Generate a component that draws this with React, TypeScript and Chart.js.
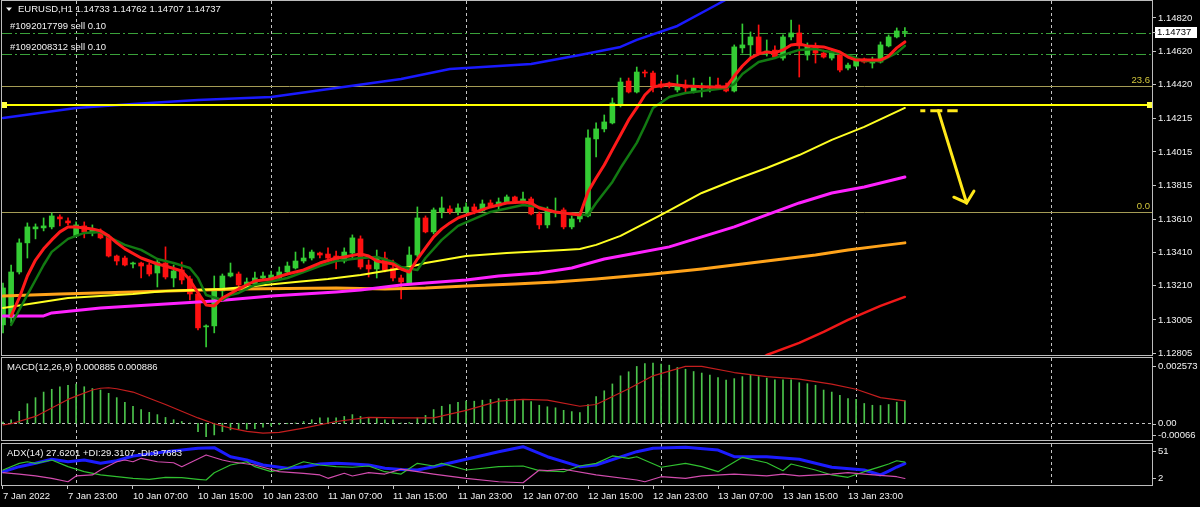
import React, { useEffect, useRef } from "react";
import { Chart, registerables } from "chart.js";

Chart.register(...registerables);

// ---------------- DATA ----------------
const opens = [1.12975,1.13017,1.13293,1.13468,1.13552,1.13558,1.13564,1.13624,1.136,1.1351,1.1357,1.13528,1.13534,1.13504,1.13389,1.13377,1.13341,1.13347,1.13335,1.13287,1.13347,1.13257,1.13305,1.13251,1.13161,1.12963,1.12969,1.13179,1.13269,1.13281,1.13215,1.13221,1.13257,1.13257,1.13257,1.13293,1.13317,1.13359,1.13377,1.13407,1.13401,1.13389,1.13359,1.13407,1.13492,1.13335,1.13311,1.13377,1.13317,1.13257,1.13227,1.13395,1.13618,1.13534,1.13654,1.13672,1.13654,1.13654,1.13684,1.1366,1.13708,1.1369,1.13714,1.13744,1.13714,1.13732,1.13642,1.13576,1.13648,1.13666,1.13564,1.13612,1.1363,1.14093,1.14153,1.14189,1.14297,1.14441,1.14375,1.14495,1.14489,1.14423,1.14423,1.14387,1.14417,1.14375,1.14399,1.14399,1.14417,1.14411,1.14381,1.1464,1.14658,1.14706,1.14609,1.14627,1.14579,1.14706,1.1473,1.14597,1.14652,1.14609,1.14579,1.14597,1.14519,1.14531,1.14573,1.14549,1.14555,1.14652,1.14706,1.14733];
const highs = [1.13227,1.13335,1.13492,1.13588,1.13582,1.13618,1.13648,1.13636,1.13618,1.13594,1.13594,1.13576,1.13552,1.13516,1.13395,1.13389,1.13353,1.13353,1.13347,1.13365,1.13444,1.13335,1.13353,1.13269,1.13173,1.12975,1.13269,1.13281,1.13347,1.13293,1.13257,1.13293,1.13293,1.13299,1.13323,1.13353,1.13413,1.13438,1.13425,1.13413,1.13438,1.13419,1.13438,1.13516,1.1351,1.13365,1.13425,1.13413,1.13365,1.13275,1.13444,1.13684,1.1363,1.13678,1.13744,1.1369,1.13702,1.13708,1.13702,1.13726,1.13726,1.13738,1.13756,1.1375,1.13774,1.13744,1.13654,1.13684,1.13738,1.13678,1.1363,1.13654,1.14147,1.14189,1.14237,1.14339,1.14459,1.14459,1.14525,1.14507,1.14501,1.14441,1.14435,1.14477,1.14447,1.14459,1.14429,1.14465,1.14459,1.14429,1.14658,1.14784,1.14736,1.14778,1.14688,1.14652,1.14718,1.14808,1.14778,1.1467,1.1467,1.14627,1.14627,1.14615,1.14549,1.14585,1.14579,1.14585,1.14676,1.14718,1.1476,1.14762];
const lows = [1.12927,1.12987,1.13281,1.13377,1.13492,1.1354,1.13552,1.1357,1.13576,1.13504,1.13498,1.1351,1.13492,1.13383,1.13335,1.13329,1.13317,1.13257,1.13269,1.13203,1.13251,1.13203,1.13221,1.13125,1.12945,1.12843,1.12927,1.13143,1.13263,1.13197,1.13197,1.13209,1.13245,1.13245,1.13251,1.13281,1.13311,1.13347,1.13365,1.13377,1.13371,1.13311,1.13347,1.13377,1.13311,1.13263,1.13257,1.13293,1.13239,1.13131,1.13221,1.13383,1.13528,1.13522,1.13618,1.13642,1.13636,1.13648,1.13642,1.13654,1.13684,1.13672,1.13708,1.13714,1.13708,1.13636,1.13552,1.13558,1.13624,1.13552,1.13552,1.13594,1.13624,1.13984,1.14135,1.14183,1.14285,1.14369,1.14369,1.14465,1.14375,1.14399,1.14399,1.14375,1.14369,1.14369,1.14345,1.14375,1.14393,1.14375,1.14375,1.14609,1.14585,1.14597,1.14591,1.14579,1.14567,1.14688,1.14465,1.14567,1.14549,1.14579,1.14567,1.14495,1.14507,1.14525,1.14549,1.14519,1.14549,1.14646,1.147,1.14707];
const closes = [1.13197,1.13293,1.13468,1.13564,1.13564,1.1357,1.1363,1.13612,1.13588,1.13576,1.13534,1.13552,1.13498,1.13389,1.13359,1.13335,1.13347,1.13329,1.13281,1.13353,1.13263,1.13299,1.13245,1.13161,1.12957,1.12969,1.13185,1.13269,1.13287,1.13215,1.13233,1.13257,1.13269,1.13275,1.13293,1.13329,1.13359,1.13377,1.13413,1.13395,1.13377,1.13359,1.13413,1.13498,1.13323,1.13311,1.13383,1.13305,1.13257,1.13233,1.13395,1.13618,1.13534,1.13666,1.13678,1.13654,1.13678,1.13684,1.1366,1.13702,1.1369,1.13714,1.13744,1.1372,1.13732,1.13642,1.13576,1.1366,1.13654,1.13564,1.13612,1.13636,1.14099,1.14153,1.14195,1.14309,1.14435,1.14375,1.14495,1.14489,1.14411,1.14405,1.14411,1.14417,1.14399,1.14411,1.14411,1.14411,1.14405,1.14381,1.14646,1.14658,1.14706,1.14609,1.14621,1.14585,1.14706,1.1473,1.14652,1.14652,1.14609,1.14585,1.14609,1.14507,1.14537,1.14573,1.14555,1.14567,1.14658,1.14706,1.14742,1.14737];

const maBlue = [[0,1.14219],[9,1.14279],[16,1.14303],[24,1.14327],[33,1.14345],[41,1.14399],[49,1.14453],[55,1.14513],[57,1.14519],[65,1.14543],[71,1.14597],[76,1.14646],[78,1.14688],[83,1.14772],[88,1.14904],[92,1.15012]];
const maYellow = [[0,1.13077],[4,1.13107],[8,1.13137],[12,1.13149],[16,1.13161],[20,1.13179],[27,1.13191],[31,1.13209],[36,1.13233],[40,1.13251],[44,1.13275],[47,1.13299],[50,1.13323],[52,1.13347],[57,1.13389],[62,1.13407],[69,1.13425],[71,1.13431],[73,1.13456],[76,1.1351],[81,1.13636],[86,1.13768],[90,1.13846],[94,1.13918],[98,1.13996],[102,1.14087],[106,1.14165],[111,1.14279]];
const maMagenta = [[0,1.13029],[5,1.13029],[6,1.13047],[12,1.13077],[20,1.13101],[26,1.13119],[33,1.13149],[41,1.13173],[44,1.13185],[49,1.13215],[52,1.13227],[57,1.13245],[61,1.13269],[66,1.13287],[70,1.13317],[74,1.13371],[78,1.13407],[82,1.13444],[86,1.13504],[90,1.13564],[94,1.13636],[98,1.13708],[102,1.13768],[106,1.13804],[111,1.13864]];
const maOrange = [[0,1.13149],[7,1.13161],[16,1.13173],[29,1.13191],[41,1.13197],[47,1.13191],[52,1.13197],[57,1.13209],[63,1.13221],[68,1.13233],[73,1.13251],[80,1.13281],[86,1.13311],[91,1.13341],[95,1.13365],[100,1.13395],[104,1.13425],[108,1.1345],[111,1.13468]];
const maRedLong = [[93,1.12764],[94,1.12794],[98,1.12867],[101,1.12933],[104,1.13005],[108,1.13089],[111,1.13143]];
const maFastRed = [[1,1.13029],[2,1.13137],[3,1.13269],[4,1.13365],[5,1.13432],[6,1.13486],[7,1.13534],[8,1.13564],[9,1.13564],[10,1.13558],[11,1.13552],[12,1.1354],[13,1.1351],[14,1.13468],[15,1.13432],[17,1.13377],[19,1.13341],[20,1.13329],[22,1.13299],[23,1.13245],[24,1.13167],[25,1.13095],[26,1.13089],[27,1.13137],[29,1.13191],[31,1.13239],[33,1.13251],[35,1.13281],[37,1.13305],[39,1.13347],[41,1.13377],[42,1.13383],[44,1.13402],[45,1.13389],[46,1.13359],[48,1.13341],[49,1.13311],[50,1.13293],[51,1.13371],[52,1.13438],[53,1.13504],[54,1.13552],[55,1.13588],[56,1.13618],[60,1.13684],[62,1.13708],[64,1.13714],[65,1.13708],[66,1.13678],[68,1.13654],[70,1.13642],[71,1.13636],[72,1.13774],[73,1.13858],[74,1.13936],[75,1.14027],[76,1.14117],[77,1.14207],[78,1.14279],[79,1.14357],[80,1.14405],[82,1.14423],[84,1.14411],[87,1.14405],[89,1.14405],[90,1.14471],[91,1.14531],[92,1.14579],[93,1.14604],[94,1.14616],[95,1.1461],[96,1.14628],[97,1.14658],[98,1.14664],[99,1.14652],[101,1.14646],[103,1.14616],[104,1.14585],[105,1.14567],[108,1.14567],[109,1.14591],[110,1.1464],[111,1.14676]];
const maSlowGreen = [[1,1.12975],[2,1.13065],[3,1.13155],[4,1.13245],[5,1.13335],[6,1.13414],[8,1.13492],[9,1.1351],[10,1.13528],[12,1.13534],[13,1.13504],[15,1.13456],[17,1.13426],[19,1.13371],[21,1.13347],[23,1.13317],[24,1.13257],[25,1.13155],[27,1.13125],[28,1.13155],[29,1.13167],[31,1.13215],[35,1.13257],[39,1.13329],[41,1.13359],[44,1.13377],[46,1.13383],[48,1.13353],[49,1.13323],[51,1.13305],[52,1.13377],[54,1.13486],[56,1.1357],[60,1.13654],[64,1.13696],[66,1.13684],[68,1.13654],[70,1.13642],[72,1.13636],[73,1.13708],[75,1.13834],[76,1.13918],[78,1.14069],[79,1.14171],[80,1.14279],[82,1.14345],[84,1.14369],[86,1.14381],[89,1.14399],[90,1.14423],[91,1.14483],[93,1.14555],[95,1.14579],[96,1.14597],[98,1.14628],[100,1.14634],[101,1.14622],[103,1.1461],[105,1.14579],[106,1.14561],[108,1.14561],[110,1.1461],[111,1.14652]];

const macdMain = [0.00005,0.00014,0.00047,0.00077,0.00101,0.00123,0.00134,0.00144,0.0015,0.00154,0.00144,0.00137,0.00131,0.00118,0.00101,0.00083,0.00067,0.00054,0.00043,0.00034,0.00023,0.00014,0.00007,0.00001,-0.00033,-0.00053,-0.00046,-0.00033,-0.00026,-0.00023,-0.00023,-0.00021,-0.00015,-0.0001,-0.00005,-0.00002,0.00001,0.00007,0.00014,0.00021,0.00021,0.00021,0.00027,0.00034,0.00027,0.00023,0.00021,0.00014,0.00014,0.00001,0.00003,0.00021,0.00031,0.00054,0.00067,0.00074,0.00083,0.00087,0.00087,0.00091,0.00094,0.00097,0.00097,0.00094,0.00091,0.00085,0.00071,0.00065,0.00061,0.00051,0.00046,0.00042,0.00074,0.00105,0.00128,0.00155,0.00187,0.00203,0.00224,0.00235,0.00237,0.00233,0.00229,0.0022,0.00213,0.00204,0.00198,0.0019,0.0018,0.0017,0.00176,0.00184,0.0019,0.00184,0.00178,0.00171,0.00171,0.00171,0.0016,0.00156,0.0015,0.00131,0.00123,0.0011,0.00097,0.00094,0.00078,0.00071,0.0007,0.00074,0.00083,0.000885];
const macdSignal = [[0,-0.00006],[1,-0.00002],[4,0.00027],[8,0.00094],[9,0.00107],[11,0.00131],[12,0.00138],[13,0.0014],[14,0.00136],[16,0.00123],[20,0.00074],[24,0.00021],[26,-0.00002],[28,-0.00019],[30,-0.00032],[32,-0.00039],[34,-0.00036],[37,-0.00019],[41,0.00007],[45,0.00023],[49,0.00021],[53,0.00021],[57,0.00051],[61,0.00087],[64,0.00094],[67,0.00091],[71,0.00067],[73,0.00074],[77,0.00136],[80,0.00187],[84,0.00224],[86,0.00224],[90,0.002],[94,0.00184],[98,0.00174],[102,0.00154],[105,0.00134],[108,0.00101],[111,0.000886]];

const adxMain = [[0,17.9],[2,23.9],[4,27.9],[6,32.7],[8,29.8],[10,31.9],[12,27.9],[14,31.0],[16,36.7],[18,39.0],[20,41.8],[22,43.8],[24,45.9],[26,46.6],[28,35.8],[30,31.9],[32,25.9],[35,22.0],[37,23.9],[39,27.1],[41,27.9],[43,27.1],[45,25.9],[47,22.0],[49,20.5],[51,19.9],[53,23.9],[57,32.7],[61,41.8],[64,47.8],[67,35.8],[71,23.9],[73,25.9],[78,41.8],[80,45.9],[84,47.1],[88,43.8],[90,35.8],[94,35.8],[98,32.7],[102,23.2],[106,19.9],[108,14.0],[109,18.7],[110,23.5],[111,27.62]];
const plusDI = [[0,19.9],[2,27.9],[3,29.8],[4,27.9],[6,31.9],[8,23.9],[10,17.9],[12,14.0],[14,11.9],[16,10.0],[18,8.8],[20,11.2],[22,10.7],[24,8.8],[25,8.0],[26,16.7],[28,25.9],[30,29.8],[31,23.9],[33,17.9],[35,22.0],[37,29.8],[39,25.9],[41,23.9],[43,23.2],[45,24.7],[47,17.9],[49,15.1],[51,27.9],[53,24.7],[54,27.9],[57,19.9],[61,23.9],[64,24.7],[66,19.1],[69,17.9],[71,24.7],[73,27.9],[75,36.7],[77,33.9],[78,35.8],[81,23.2],[84,27.9],[86,23.9],[88,17.9],[91,35.1],[94,28.6],[96,19.1],[97,27.1],[100,19.9],[102,14.0],[104,11.2],[106,17.9],[108,23.9],[109,27.1],[110,31.0],[111,29.31]];
const minusDI = [[0,16.7],[2,15.1],[4,12.8],[6,10.0],[8,5.9],[9,12.8],[11,14.0],[12,19.9],[14,29.8],[15,31.9],[16,29.8],[17,33.9],[19,29.8],[21,28.6],[22,23.9],[25,37.9],[27,31.9],[28,29.8],[31,25.9],[32,23.2],[34,17.9],[37,16.0],[39,14.0],[40,10.0],[42,16.0],[43,12.8],[45,16.7],[47,15.1],[49,21.0],[53,15.1],[57,10.0],[61,5.9],[64,4.7],[66,19.9],[67,19.1],[69,20.8],[73,14.0],[78,8.0],[79,5.9],[81,11.9],[84,10.0],[86,12.8],[90,15.1],[94,12.8],[96,15.1],[98,12.8],[102,15.1],[104,16.7],[106,15.1],[110,11.9],[111,9.77]];

const xTickIdx = [0,8,16,24,32,40,48,56,64,72,80,88,96,104];
const xTickLabels = ["7 Jan 2022","7 Jan 23:00","10 Jan 07:00","10 Jan 15:00","10 Jan 23:00","11 Jan 07:00","11 Jan 15:00","11 Jan 23:00","12 Jan 07:00","12 Jan 15:00","12 Jan 23:00","13 Jan 07:00","13 Jan 15:00","13 Jan 23:00"];
const dayStartIdx = [9,33,57,81,105,129];
const priceTicks = [1.1482,1.1462,1.1442,1.14215,1.14015,1.13815,1.1361,1.1341,1.1321,1.13005,1.12805];

const orderPrices = [1.14728, 1.14602];
const orderLabels = ["#1092017799 sell 0.10", "#1092008312 sell 0.10"];
const fibPrices = [1.14411, 1.13654];
const fibLabels = ["23.6", "0.0"];
const keyLevel = 1.14297;
const dashSeg = [[112.9, 1.14263], [117.5, 1.14263]];
const arrowSeg = [[115.1, 1.14263], [118.6, 1.13708]];
const macdHeader = "MACD(12,26,9) 0.000885 0.000886";
const adxHeader = "ADX(14) 27.6201 +DI:29.3107 -DI:9.7683";

// ---------------- CONFIG ----------------
const X_MIN = -0.123;
const X_MAX = 141.415;
const PRICE_MIN = 1.12794;
const PRICE_MAX = 1.14922;
const MACD_MIN = -0.00066;
const MACD_MAX = 0.002573;
const ADX_MIN = 2;
const ADX_MAX = 51;

const FONT = "'Liberation Sans', Arial, sans-serif";
const FS = 9.5;
const TEXT = "#f2f2f2";
const GRID = "#c4c4c4";
const BORDER = "#bcbcbc";
const BULL = "#34cc34";
const BEAR = "#ff1010";

const toPts = (arr: number[][]) => arr.map(([x, y]) => ({ x, y }));

const line = (ctx: any, x1: number, y1: number, x2: number, y2: number) => {
  ctx.beginPath();
  ctx.moveTo(x1, y1);
  ctx.lineTo(x2, y2);
  ctx.stroke();
};

const txt = (ctx: any, s: string, x: number, y: number, color: string, align = "left") => {
  ctx.save();
  ctx.font = `${FS}px ${FONT}`;
  ctx.fillStyle = color;
  ctx.textAlign = align;
  ctx.textBaseline = "middle";
  ctx.fillText(s, x, y);
  ctx.restore();
};

function drawVGrid(chart: any) {
  const { ctx, chartArea: a, scales } = chart;
  ctx.save();
  ctx.beginPath();
  ctx.rect(a.left, a.top, a.right - a.left, a.bottom - a.top);
  ctx.clip();
  ctx.strokeStyle = GRID;
  ctx.lineWidth = 1;
  ctx.setLineDash([3, 3]);
  for (const d of dayStartIdx) {
    const px = Math.round(scales.x.getPixelForValue(d)) + 0.5;
    line(ctx, px, a.top, px, a.bottom);
  }
  ctx.restore();
}

function drawFrame(chart: any) {
  const { ctx, chartArea: a } = chart;
  ctx.save();
  ctx.strokeStyle = BORDER;
  ctx.lineWidth = 1;
  ctx.setLineDash([]);
  ctx.strokeRect(a.left - 0.5, a.top - 0.5, a.right - a.left + 1, a.bottom - a.top + 1);
  ctx.restore();
}

const xHidden = () => ({
  type: "linear",
  min: X_MIN,
  max: X_MAX,
  offset: false,
  display: false,
  grid: { offset: false },
});

const yRight = (min: number, max: number, extra: any = {}) => ({
  position: "right",
  min,
  max,
  afterFit: (s: any) => {
    s.width = 48;
    s.paddingTop = 0;
    s.paddingBottom = 0;
  },
  border: { display: false },
  grid: { display: false },
  ticks: { display: false },
  ...extra,
});

const baseOptions = (padding: any) => ({
  animation: false,
  responsive: false,
  maintainAspectRatio: false,
  devicePixelRatio: 1,
  events: [],
  layout: { padding },
  plugins: { legend: { display: false }, tooltip: { enabled: false } },
});

const lineDs = (data: number[][], color: string, width: number, order: number) => ({
  type: "line",
  data: toPts(data),
  borderColor: color,
  backgroundColor: color,
  borderWidth: width,
  pointRadius: 0,
  pointHoverRadius: 0,
  tension: 0,
  fill: false,
  order,
  borderJoinStyle: "round",
  borderCapStyle: "round",
});

function mainConfig(): any {
  const colors = closes.map((c, i) => (c >= opens[i] ? BULL : BEAR));
  const bodies = opens.map((o, i) => ({ x: i, y: [o, closes[i]] }));
  const wicks = lows.map((l, i) => ({ x: i, y: [l, highs[i]] }));

  const overlay = {
    id: "mainOverlay",
    beforeDatasetsDraw(chart: any) {
      const { ctx, chartArea: a, scales } = chart;
      const y = scales.y;
      drawVGrid(chart);
      ctx.save();
      ctx.lineWidth = 1;
      ctx.strokeStyle = "#a59c55";
      for (const p of fibPrices) {
        const py = Math.round(y.getPixelForValue(p)) + 0.5;
        line(ctx, a.left, py, a.right, py);
      }
      ctx.strokeStyle = "#3aa23a";
      ctx.setLineDash([10, 3, 2, 3]);
      for (const p of orderPrices) {
        const py = Math.round(y.getPixelForValue(p)) + 0.5;
        line(ctx, a.left, py, a.right, py);
      }
      ctx.restore();
    },
    afterDatasetsDraw(chart: any) {
      const { ctx, chartArea: a, scales } = chart;
      const { x, y } = scales;
      ctx.save();
      ctx.beginPath();
      ctx.rect(a.left, a.top, a.right - a.left, a.bottom - a.top);
      ctx.clip();
      const ky = Math.round(y.getPixelForValue(keyLevel));
      ctx.strokeStyle = "#ffff00";
      ctx.lineWidth = 2;
      line(ctx, a.left, ky, a.right, ky);
      ctx.fillStyle = "#ffff40";
      ctx.fillRect(a.left, ky - 3, 5, 6);
      ctx.fillRect(a.right - 5, ky - 3, 5, 6);

      ctx.strokeStyle = "#ffe81a";
      ctx.lineWidth = 3;
      ctx.setLineDash([12, 5]);
      ctx.lineDashOffset = 7;
      line(
        ctx,
        x.getPixelForValue(dashSeg[0][0]),
        y.getPixelForValue(dashSeg[0][1]),
        x.getPixelForValue(dashSeg[1][0]),
        y.getPixelForValue(dashSeg[1][1])
      );
      ctx.setLineDash([]);
      ctx.lineDashOffset = 0;
      const x1 = x.getPixelForValue(arrowSeg[0][0]);
      const y1 = y.getPixelForValue(arrowSeg[0][1]);
      const x2 = x.getPixelForValue(arrowSeg[1][0]);
      const y2 = y.getPixelForValue(arrowSeg[1][1]);
      ctx.lineCap = "round";
      line(ctx, x1, y1, x2, y2);
      const ang = Math.atan2(y2 - y1, x2 - x1);
      const L = 14;
      line(ctx, x2, y2, x2 - L * Math.cos(ang - 0.85), y2 - L * Math.sin(ang - 0.85));
      line(ctx, x2, y2, x2 - L * Math.cos(ang + 0.85), y2 - L * Math.sin(ang + 0.85));
      ctx.restore();
    },
    afterDraw(chart: any) {
      const { ctx, chartArea: a, scales } = chart;
      const y = scales.y;
      drawFrame(chart);
      ctx.save();
      ctx.fillStyle = TEXT;
      ctx.beginPath();
      ctx.moveTo(6, 7.5);
      ctx.lineTo(12, 7.5);
      ctx.lineTo(9, 11);
      ctx.closePath();
      ctx.fill();
      ctx.restore();
      const n = closes.length - 1;
      txt(
        ctx,
        `EURUSD,H1 ${opens[n].toFixed(5)} ${highs[n].toFixed(5)} ${lows[n].toFixed(5)} ${closes[n].toFixed(5)}`,
        18,
        9.5,
        TEXT
      );
      orderPrices.forEach((p, i) => {
        txt(ctx, orderLabels[i], 10, y.getPixelForValue(p) - 6.5, TEXT);
      });
      fibPrices.forEach((p, i) => {
        txt(ctx, fibLabels[i], a.right - 2, y.getPixelForValue(p) - 6, "#d2c63c", "right");
      });
      const cy = Math.round(y.getPixelForValue(closes[n]));
      ctx.save();
      ctx.fillStyle = "#ffffff";
      ctx.fillRect(a.right + 3, cy - 5, 42, 11);
      ctx.strokeStyle = GRID;
      line(ctx, a.right, cy + 0.5, a.right + 4, cy + 0.5);
      ctx.restore();
      txt(ctx, closes[n].toFixed(5), a.right + 5, cy + 0.5, "#000000");
    },
  };

  return {
    type: "bar",
    data: {
      datasets: [
        lineDs(maFastRed, "#ff1a1a", 3, 0),
        lineDs(maSlowGreen, "#127a12", 2.5, 1),
        lineDs(maRedLong, "#f01818", 2.5, 2),
        lineDs(maBlue, "#1a1aff", 2.5, 3),
        lineDs(maYellow, "#ffff22", 2, 4),
        lineDs(maMagenta, "#ff22ff", 3, 5),
        lineDs(maOrange, "#ffa31a", 3, 6),
        {
          type: "bar",
          data: bodies,
          backgroundColor: colors,
          borderWidth: 0,
          barThickness: 5,
          minBarLength: 1,
          grouped: false,
          order: 7,
        },
        {
          type: "bar",
          data: wicks,
          backgroundColor: colors,
          borderWidth: 0,
          barThickness: 1,
          grouped: false,
          order: 8,
        },
      ],
    },
    options: {
      ...baseOptions({ left: 2, top: 1, right: 0, bottom: 2 }),
      scales: {
        x: xHidden(),
        y: yRight(PRICE_MIN, PRICE_MAX, {
          afterBuildTicks: (s: any) => {
            s.ticks = priceTicks.map((v) => ({ value: v }));
          },
          grid: { display: true, drawOnChartArea: false, drawTicks: true, tickLength: 4, color: GRID },
          ticks: {
            display: true,
            autoSkip: false,
            color: TEXT,
            padding: 2,
            font: { family: FONT, size: FS },
            callback: (v: any) => Number(v).toFixed(5),
          },
        }),
      },
    },
    plugins: [overlay],
  };
}

function macdConfig(): any {
  const overlay = {
    id: "macdOverlay",
    beforeDatasetsDraw(chart: any) {
      const { ctx, chartArea: a, scales } = chart;
      drawVGrid(chart);
      const zy = Math.round(scales.y.getPixelForValue(0)) + 0.5;
      ctx.save();
      ctx.strokeStyle = GRID;
      ctx.lineWidth = 1;
      ctx.setLineDash([3, 3]);
      line(ctx, a.left, zy, a.right, zy);
      ctx.restore();
    },
    afterDraw(chart: any) {
      const { ctx, chartArea: a, scales } = chart;
      const y = scales.y;
      drawFrame(chart);
      txt(ctx, macdHeader, 7, a.top + 9, TEXT);
      const top = y.getPixelForValue(MACD_MAX);
      const zero = y.getPixelForValue(0);
      const bot = y.getPixelForValue(MACD_MIN);
      const rows = [
        [MACD_MAX.toFixed(6), top + 8],
        ["0.00", zero + 0.5],
        [MACD_MIN.toFixed(5), bot - 5],
      ];
      ctx.save();
      ctx.strokeStyle = GRID;
      for (const [s, py] of rows as any) {
        line(ctx, a.right, Math.round(py) + 0.5, a.right + 4, Math.round(py) + 0.5);
      }
      ctx.restore();
      for (const [s, py] of rows as any) txt(ctx, s, a.right + 6, py, TEXT);
    },
  };
  return {
    type: "bar",
    data: {
      datasets: [
        lineDs(macdSignal, "#c41e1e", 1.2, 0),
        {
          type: "bar",
          data: macdMain.map((v, i) => ({ x: i, y: v })),
          backgroundColor: "#4cc44c",
          borderWidth: 0,
          barThickness: 1,
          grouped: false,
          order: 1,
        },
      ],
    },
    options: {
      ...baseOptions({ left: 2, top: 1, right: 0, bottom: 2 }),
      scales: { x: xHidden(), y: yRight(MACD_MIN, MACD_MAX) },
    },
    plugins: [overlay],
  };
}

function adxConfig(): any {
  const overlay = {
    id: "adxOverlay",
    beforeDatasetsDraw(chart: any) {
      drawVGrid(chart);
    },
    afterDraw(chart: any) {
      const { ctx, chartArea: a, scales } = chart;
      const y = scales.y;
      drawFrame(chart);
      txt(ctx, adxHeader, 7, a.top + 9, TEXT);
      const rows = [
        [String(ADX_MAX), y.getPixelForValue(ADX_MAX) + 7],
        [String(ADX_MIN), y.getPixelForValue(ADX_MIN) - 7],
      ];
      ctx.save();
      ctx.strokeStyle = GRID;
      for (const [s, py] of rows as any) {
        line(ctx, a.right, Math.round(py) + 0.5, a.right + 4, Math.round(py) + 0.5);
      }
      ctx.restore();
      for (const [s, py] of rows as any) txt(ctx, s, a.right + 6, py, TEXT);
    },
  };
  return {
    type: "line",
    data: {
      datasets: [
        lineDs(minusDI, "#d24cae", 1.2, 0),
        lineDs(plusDI, "#30c030", 1.2, 1),
        lineDs(adxMain, "#1c1cff", 3, 2),
      ],
    },
    options: {
      ...baseOptions({ left: 2, top: 2, right: 0, bottom: 0 }),
      scales: {
        x: {
          type: "linear",
          min: X_MIN,
          max: X_MAX,
          offset: false,
          position: "bottom",
          afterBuildTicks: (s: any) => {
            s.ticks = xTickIdx.map((v) => ({ value: v }));
          },
          afterFit: (s: any) => {
            s.height = 22;
            s.paddingLeft = 0;
            s.paddingRight = 0;
          },
          border: { display: false },
          grid: { offset: false, drawOnChartArea: false, drawTicks: true, tickLength: 4, color: GRID },
          ticks: {
            autoSkip: false,
            maxRotation: 0,
            minRotation: 0,
            align: "start",
            padding: 2,
            color: TEXT,
            font: { family: FONT, size: FS },
            callback: (v: any) => {
              const k = xTickIdx.indexOf(Math.round(Number(v)));
              return k >= 0 ? xTickLabels[k] : "";
            },
          },
        },
        y: yRight(ADX_MIN, ADX_MAX),
      },
    },
    plugins: [overlay],
  };
}

export default function App() {
  const mainRef = useRef<HTMLCanvasElement>(null);
  const macdRef = useRef<HTMLCanvasElement>(null);
  const adxRef = useRef<HTMLCanvasElement>(null);

  useEffect(() => {
    const charts: Chart[] = [];
    if (mainRef.current) charts.push(new Chart(mainRef.current, mainConfig()));
    if (macdRef.current) charts.push(new Chart(macdRef.current, macdConfig()));
    if (adxRef.current) charts.push(new Chart(adxRef.current, adxConfig()));
    return () => charts.forEach((c) => c.destroy());
  }, []);

  const cs = (top: number, h: number): any => ({
    position: "absolute",
    left: 0,
    top,
    width: 1200,
    height: h,
    display: "block",
  });

  return (
    <div
      style={{
        position: "fixed",
        left: 0,
        top: 0,
        width: 1200,
        height: 507,
        background: "#000000",
        overflow: "hidden",
      }}
    >
      <canvas ref={mainRef} width={1200} height={357} style={cs(0, 357)} />
      <canvas ref={macdRef} width={1200} height={85} style={cs(357, 85)} />
      <canvas ref={adxRef} width={1200} height={65} style={cs(442, 65)} />
    </div>
  );
}
